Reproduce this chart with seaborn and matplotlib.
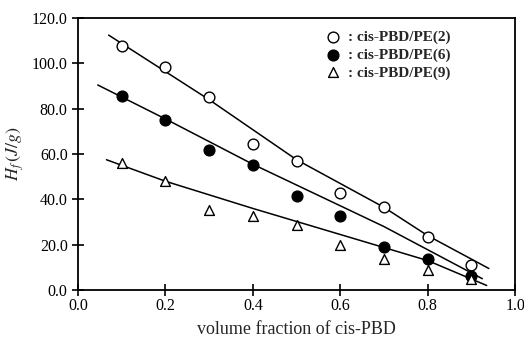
import numpy as np
import pandas as pd
import matplotlib
matplotlib.use("Agg")
import matplotlib.pyplot as plt
import seaborn as sns

# volume fraction of cis-PBD
frac = [0.1, 0.2, 0.3, 0.4, 0.5, 0.6, 0.7, 0.8, 0.9]

# heat of fusion (J/g)
hf_pe2 = [107.5, 98.5, 85.0, 64.5, 57.0, 43.0, 36.5, 23.5, 11.0]
hf_pe6 = [85.5, 75.0, 62.0, 55.0, 41.5, 32.5, 19.0, 13.5, 6.0]
hf_pe9 = [56.0, 48.0, 35.5, 32.5, 28.5, 20.0, 13.5, 9.0, 5.0]

# fitted curves drawn in the figure
fit_x_pe2 = [0.07, 0.3, 0.5, 0.7, 0.8, 0.94]
fit_y_pe2 = [112.5, 84.0, 57.5, 36.5, 24.0, 9.5]
fit_x_pe6 = [0.045, 0.2, 0.4, 0.7, 0.925]
fit_y_pe6 = [90.5, 75.5, 55.5, 28.0, 5.0]
fit_x_pe9 = [0.065, 0.2, 0.4, 0.6, 0.8, 0.935]
fit_y_pe9 = [57.5, 48.0, 36.0, 24.5, 13.0, 2.0]

labels = [": cis-PBD/PE(2)", ": cis-PBD/PE(6)", ": cis-PBD/PE(9)"]

sns.set_style("ticks")
plt.rcParams['font.family'] = ['Liberation Serif', 'DejaVu Serif']
plt.rcParams['mathtext.fontset'] = 'stix'

fig = plt.figure(figsize=(5.24, 3.42), dpi=100)
ax = fig.add_axes([0.149, 0.152, 0.834, 0.795])

for fx, fy in [(fit_x_pe2, fit_y_pe2), (fit_x_pe6, fit_y_pe6), (fit_x_pe9, fit_y_pe9)]:
    sns.lineplot(x=fx, y=fy, ax=ax, color='black', lw=1.1, legend=False)

sns.scatterplot(x=frac, y=hf_pe2, ax=ax, marker='o', s=60, facecolor='white',
                edgecolor='black', linewidth=1.0, label=labels[0], zorder=3)
sns.scatterplot(x=frac, y=hf_pe6, ax=ax, marker='o', s=60, color='black',
                edgecolor='black', linewidth=1.0, label=labels[1], zorder=3)
sns.scatterplot(x=frac, y=hf_pe9, ax=ax, marker='^', s=50, facecolor='white',
                edgecolor='black', linewidth=1.0, label=labels[2], zorder=3)

ax.set_xlim(0, 1.0)
ax.set_ylim(0, 120)
ax.set_xticks([0.0, 0.2, 0.4, 0.6, 0.8, 1.0])
ax.set_yticks([0, 20, 40, 60, 80, 100, 120])
ax.xaxis.set_major_formatter(matplotlib.ticker.FormatStrFormatter('%.1f'))
ax.yaxis.set_major_formatter(matplotlib.ticker.FormatStrFormatter('%.1f'))
ax.tick_params(direction='inout', length=8, width=1.2, labelsize=11.5, colors='black')
ax.tick_params(axis='x', pad=2)
for sp in ax.spines.values():
    sp.set_linewidth(1.3)
    sp.set_color('black')

ax.set_xlabel('volume fraction of cis-PBD', fontsize=13, labelpad=5)
ax.set_ylabel(r'$H_f\,(J/g)$', fontsize=13, labelpad=4)

leg = ax.legend(loc='upper left', bbox_to_anchor=(0.52, 1.0), frameon=False,
                handletextpad=0.0, labelspacing=0.25, borderpad=0.3,
                prop={'weight': 'bold', 'size': 11})

fig.savefig('out.png', dpi=100)
